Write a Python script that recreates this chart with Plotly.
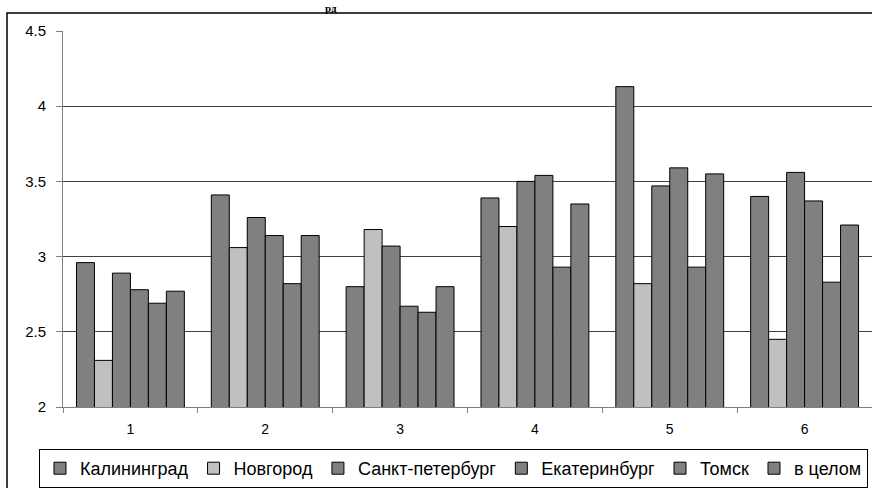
import plotly.graph_objects as go

categories = ["1", "2", "3", "4", "5", "6"]
series_names = ["Калининград", "Новгород", "Санкт-петербург", "Екатеринбург", "Томск", "в целом"]
kaliningrad = [2.96, 3.41, 2.80, 3.39, 4.13, 3.40]
novgorod = [2.31, 3.06, 3.18, 3.20, 2.82, 2.45]
spb = [2.89, 3.26, 3.07, 3.50, 3.47, 3.56]
ekaterinburg = [2.78, 3.14, 2.67, 3.54, 3.59, 3.37]
tomsk = [2.69, 2.82, 2.63, 2.93, 2.93, 2.83]
overall = [2.77, 3.14, 2.80, 3.35, 3.55, 3.21]
series_values = [kaliningrad, novgorod, spb, ekaterinburg, tomsk, overall]
series_colors = ["#808080", "#C0C0C0", "#808080", "#808080", "#808080", "#808080"]
y_tickvals = [2, 2.5, 3, 3.5, 4, 4.5]
y_ticktext = ["2", "2.5", "3", "3.5", "4", "4.5"]
title_fragment = "рд"

FONT = "Liberation Sans, Arial, sans-serif"

fig = go.Figure()
for name, vals, col in zip(series_names, series_values, series_colors):
    fig.add_trace(go.Bar(
        x=categories, y=vals, name=name,
        marker=dict(color=col, line=dict(color="#000000", width=1)),
    ))

fig.update_layout(
    width=872, height=488,
    margin=dict(l=63, r=0, t=31, b=81),
    paper_bgcolor="white", plot_bgcolor="white",
    barmode="group", bargap=0.2, bargroupgap=0,
    showlegend=True,
    legend=dict(
        orientation="h", x=-0.0297, xanchor="left", y=-0.112, yanchor="top",
        bordercolor="#000000", borderwidth=1,
        font=dict(family=FONT, size=18, color="#000000"),
        itemwidth=30, tracegroupgap=0,
    ),
    font=dict(family=FONT, color="#000000"),
    shapes=[dict(
        type="rect", xref="paper", yref="paper",
        x0=-0.0692, x1=1.02, y0=-0.5, y1=1.0479,
        line=dict(color="#000000", width=1.5), fillcolor="rgba(0,0,0,0)",
        layer="below",
    )],
    annotations=[dict(
        text="<b>" + title_fragment + "</b>", xref="paper", yref="paper",
        x=(331 - 63) / 809, y=(407 + 0) / 376, xanchor="center", yanchor="top",
        showarrow=False, font=dict(family="Liberation Serif, Times New Roman, serif", size=11, color="#000000"),
    )],
)

fig.update_xaxes(
    type="category", tickson="boundaries", ticks="outside", ticklen=5,
    tickcolor="#808080", showline=True, linecolor="#808080", linewidth=1,
    showgrid=False, tickfont=dict(family=FONT, size=14, color="#000000"),
    ticklabelstandoff=9,
)
fig.update_yaxes(
    range=[2, 4.5], tickvals=y_tickvals, ticktext=y_ticktext,
    ticks="outside", ticklen=6, tickcolor="#808080",
    showline=True, linecolor="#808080", linewidth=1,
    showgrid=True, gridcolor="#404040", gridwidth=1, zeroline=False,
    tickfont=dict(family=FONT, size=15, color="#000000"),
    ticklabelstandoff=7,
)

fig.write_html("out.html")
